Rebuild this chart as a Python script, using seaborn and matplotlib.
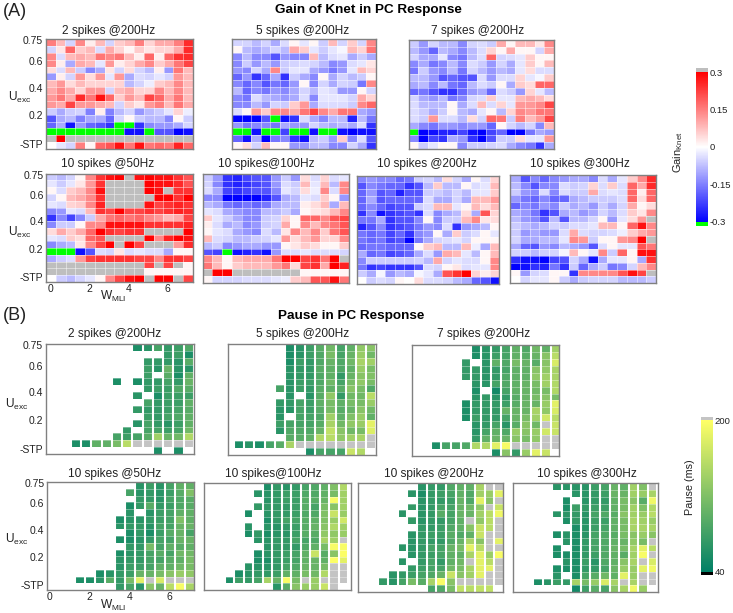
import numpy as np
import matplotlib as mpl
import matplotlib.pyplot as plt
import seaborn as sns

sns.set_theme(style='white')
plt.rcParams['font.family'] = ['Liberation Sans', 'DejaVu Sans']
plt.rcParams['mathtext.default'] = 'regular'

# ── DATA: GAIN (x 100), 99 = above range (grey), -99 = below range (green) ──
gain_2_200 = [
    [15, 8, -5, 14, 2, 8, -5, 6, 8, 15, 5, 10, 10, 15, 25],
    [-5, 3, 18, 6, 8, -4, 10, 5, 1, 6, 3, 5, 5, 10, 25],
    [14, -4, 8, 10, 8, 16, 14, 16, 8, 2, 18, 2, 18, 24, 25],
    [14, 2, -10, 10, 8, -3, 12, 2, 5, 10, 14, 6, 10, 16, 22],
    [4, -4, 8, -6, -14, -10, 3, -5, 4, -5, -8, 2, -12, 16, 8],
    [-12, 2, -5, 12, 4, 12, -3, 12, -10, -4, -5, -3, -5, 12, 8],
    [8, 12, 4, 8, 5, 5, 5, 5, -8, -5, -2, 6, 8, 14, 8],
    [10, 14, 10, 5, 12, 12, -5, 8, 10, 5, 5, 14, 8, 14, 8],
    [12, 16, 10, 25, 16, 28, 18, 6, 12, 8, 22, 18, 10, 16, 8],
    [12, 10, 22, 12, 12, 10, 8, -5, 6, 3, 12, 15, 8, 16, 10],
    [-6, -10, -6, -5, -15, 2, -15, -8, -5, -12, -8, -6, -3, 5, -2],
    [-20, -10, -8, -15, -10, -10, -18, -5, 1, -6, -8, -8, -14, 1, -6],
    [-18, -10, -28, -12, -18, -20, -24, -99, -99, -24, -14, -12, -12, -10, -5],
    [-99, -99, -99, -99, -99, -99, -99, -99, -28, -28, -99, -20, -20, -30, -28],
    [99, 30, 99, 99, 99, 99, 99, 99, 99, 99, 99, 99, 99, 99, 99],
    [0, -3, -5, 15, 1, 18, 20, 28, 16, 28, 16, 18, 16, 26, 18],
]
gain_5_200 = [
    [-5, -5, -8, -5, -10, -4, 1, -3, 1, -6, 8, -5, 6, -5, 14],
    [1, -8, -10, -8, -5, -8, 10, 6, -3, -6, -3, -1, 8, 5, 16],
    [-14, -8, -14, -14, -20, -12, -14, -14, 8, -8, -4, -3, -10, -6, -10],
    [-14, -6, -12, -8, -12, -6, -5, -4, -5, -8, -14, -12, -4, -3, 3],
    [-12, -14, -5, -10, 14, -6, -3, -3, -10, -12, -16, -12, -3, 8, 5],
    [-18, -12, -24, -18, -10, -24, -6, -10, -14, 1, -10, -5, -8, -6, 1],
    [-14, -18, -14, -20, -16, -18, -12, 1, -14, -5, -10, -5, -6, -16, 14],
    [-8, -18, -14, -16, -12, -14, -10, -5, -8, -3, -4, -12, -12, 1, -5],
    [-14, -16, -4, -8, -10, -12, -10, -4, -14, -3, -3, -3, -5, 10, 5],
    [-14, -14, -8, -12, -5, -6, 6, 12, -10, -4, -4, -4, -6, 14, 18],
    [-4, 1, 12, 6, 14, 14, 10, 16, 22, 14, 10, 16, 16, -10, -12],
    [-30, -30, -30, -20, -99, -28, -24, -4, -10, -14, -8, -8, -26, -8, -16],
    [-12, -16, -14, -14, -16, -10, -12, -12, -5, -8, -10, -8, -10, -4, -24],
    [-99, -99, -28, -99, -99, -22, -99, -99, -28, -99, -99, -28, -30, -28, -28],
    [-18, -28, -10, -30, -16, -14, -24, -28, -8, -6, -12, 6, -14, -4, -20],
    [1, 4, -5, 8, 1, 1, -12, -12, -8, -8, -14, -14, -5, -10, -24],
]
gain_7_200 = [
    [-6, -12, -5, -8, -8, -14, -5, -4, -6, 10, 1, 8, 8, 3, 14],
    [-8, -12, -18, -8, -10, -14, -8, -4, 5, 1, 10, 1, 1, -5, 10],
    [-5, -10, -10, -3, -14, -16, -8, -4, 18, -5, -4, -3, 6, 1, 1],
    [-14, -10, -16, -14, -8, -14, -4, -6, -12, -5, -10, -3, 6, 1, 8],
    [-16, -6, -12, -14, -8, -16, -5, -8, -12, -8, -10, -3, 4, -4, -4],
    [-8, -8, -12, -20, -18, -20, -20, -4, -12, -4, -4, 5, -3, -1, 6],
    [-10, -8, -14, -8, -16, -18, -8, -4, -6, 1, -10, 6, 4, 18, 18],
    [-18, -16, -20, -24, -24, -18, -12, -10, -18, -4, -6, -12, 5, -3, -8],
    [-5, -10, -12, -8, -16, -14, -5, -4, 6, -3, -3, 8, 10, 8, 4],
    [-4, -8, -8, -8, 1, -10, -4, 8, -4, 5, -3, 12, 12, 14, 22],
    [-4, -6, -10, -6, 1, -8, -10, -3, 1, -8, 5, 14, 12, 16, 16],
    [-4, -6, 12, -4, -4, -8, 4, -5, 18, 16, -6, 15, 8, 12, 22],
    [-10, -14, -16, -12, -12, -14, -12, -12, -18, 1, -5, -8, -5, -14, 8],
    [-99, -30, -28, -26, -26, -22, -28, -30, -22, -18, -30, -30, -16, -10, -12],
    [-14, -30, -22, -24, -10, -12, -24, -30, -20, -6, -6, 4, -3, -3, 12],
    [1, -6, -3, 1, 1, -14, -6, -6, -5, -4, -10, -14, -16, -24, -10],
]
gain_10_50 = [
    [-6, -8, -5, 1, 14, 24, 28, 30, 99, 28, 30, 28, 28, 24, 20],
    [-3, -6, -3, 3, 12, 24, 99, 99, 99, 99, 30, 28, 28, 25, 20],
    [1, -4, 6, 8, 14, 28, 99, 99, 99, 99, 30, 28, 99, 24, 24],
    [-5, 1, 8, 10, 14, 24, 99, 99, 99, 99, 99, 30, 30, 24, 30],
    [-3, -4, 5, 6, 14, 26, 99, 99, 99, 99, 28, 22, 24, 26, 24],
    [-14, -12, -3, -4, 8, 24, 22, 30, 22, 22, 24, 22, 24, 26, 25],
    [-24, -14, -22, -14, -6, 10, 16, 18, 16, 18, 14, 12, 8, 10, 22],
    [-14, -6, -6, 1, 14, 14, 28, 28, 28, 28, 24, 24, 24, 24, 26],
    [4, 10, 6, 10, 18, 30, 24, 22, 24, 24, 99, 99, 99, 99, 30],
    [-3, -4, 6, 4, 18, 20, 99, 99, 99, 99, 30, 14, 26, 30, 28],
    [-14, -10, -8, 3, 14, 22, 30, 99, 30, 22, 99, 99, 99, 12, 25],
    [-99, -99, -99, -28, -20, -4, -5, 3, -4, -3, -4, -4, -10, 1, 1],
    [-10, -6, -4, 12, 22, 24, 24, 24, 24, 22, 22, 14, 24, 24, 22],
    [99, 99, 99, 99, 99, 99, 99, 99, 99, 99, 22, 99, 22, 99, 1],
    [99, 99, 99, 99, 99, 99, 99, 99, 99, 99, 1, 1, 1, 1, 1],
    [0, -6, -8, -5, -3, 1, 14, 22, 28, 30, 99, 30, 30, 99, 22],
]
gain_10_100 = [
    [-6, -12, -24, -26, -22, -20, -20, -12, -6, -12, 4, -4, 5, -4, -3],
    [-5, -14, -24, -26, -24, -22, -20, -12, -4, -6, 8, -3, 8, -8, 14],
    [-4, -10, -22, -24, -22, -20, -20, -14, -3, -5, 4, -2, 14, -4, 14],
    [-14, -14, -30, -30, -30, -30, -26, -20, -10, -8, -3, -4, 6, 1, -12],
    [-8, -10, -16, -18, -16, -18, -16, -10, -8, -8, 2, 4, 8, -10, 8],
    [-3, -4, -10, -12, -14, -14, -8, -8, -6, -10, 1, 3, 4, 8, 14],
    [6, -3, -6, -10, -14, -14, -6, -5, 5, 1, 18, 18, 14, 20, 22],
    [2, -4, -10, -8, -14, -12, -6, -5, 10, 1, 14, 8, 14, 16, 20],
    [1, -3, -4, -10, -12, -14, -4, -8, 3, 14, 8, 14, 6, 16, 20],
    [8, -4, -5, -8, -8, -6, -5, -3, 12, 4, 8, 12, 5, 5, 14],
    [-8, -6, -14, -12, -10, -10, -12, -12, 1, 3, 6, 4, 1, 1, 6],
    [-20, -22, -99, -28, -26, -24, -28, -12, -4, -4, -3, -4, -4, -4, -5],
    [14, 8, 1, 8, 10, 10, 10, 16, 30, 30, 22, 24, 16, 30, 99],
    [16, 8, 1, 6, 8, 8, 8, 12, 16, 4, 22, 24, 10, 30, 26],
    [99, 30, 30, 99, 99, 99, 99, 99, 99, 99, 1, 1, 1, 1, 1],
    [1, -5, -5, -5, -4, -4, -4, -3, -2, 6, 8, 20, 20, 28, 16],
]
gain_10_200 = [
    [-14, -12, -14, -14, -18, -16, -6, -5, -8, 4, -5, -10, 1, -4, 5],
    [-20, -14, -16, -18, -18, -24, -20, -8, 6, -8, -8, 1, -4, -3, 8],
    [-18, -12, -20, -18, -26, -20, -20, -6, -6, -8, -5, -8, -3, -3, 6],
    [-18, -10, -20, -18, -18, -18, -18, -4, -10, -10, -5, -10, 8, 8, 12],
    [-18, -14, -18, -22, -20, -20, -6, -4, 8, 8, -3, 1, 8, 4, 8],
    [-24, -14, -28, -24, -22, -20, -24, -4, -14, -10, -8, 4, -10, 20, 5],
    [-16, -16, -10, -24, -20, -20, -14, 1, -14, -6, -6, 8, 14, 3, 4],
    [-26, -20, -14, -24, -22, -20, -16, -12, -14, -4, -24, -12, -10, -8, 1],
    [-16, -18, -16, -22, -18, -24, -14, -12, 1, -10, 6, -6, -4, 1, -3],
    [-16, -18, -16, -22, -20, -30, -16, -10, -5, -4, -3, -5, 1, 1, 1],
    [-18, -16, -16, -18, -18, -18, 1, 6, 8, -8, -8, 8, -2, -10, 8],
    [-10, -18, -16, -22, -20, -18, -10, -4, -12, 10, 8, -3, -8, 1, 8],
    [-14, -6, -6, -6, -6, -6, -5, -8, 10, -5, -3, -4, -4, 1, 14],
    [-16, -24, -22, -24, -24, -24, -20, -4, -5, 1, 3, -4, -3, -3, 14],
    [-6, -10, -1, -12, -8, -10, -1, -3, -10, 20, 24, 30, 5, 2, 5],
    [0, -6, -4, -5, 1, 0, 4, -4, -4, -5, -8, -10, -18, -20, -28],
]
gain_10_300 = [
    [-10, -20, -14, -18, -14, -12, -10, -10, -14, -4, -10, -3, 6, 14, 25],
    [-8, -14, -20, -14, -14, -4, -6, -5, 5, -4, 6, -4, 18, 10, 25],
    [-6, -12, -14, -4, -14, -4, -6, -6, 10, -4, -3, -4, 18, 2, 18],
    [-12, -16, -18, -14, -18, -18, -10, -8, -6, -6, -6, -4, 18, 4, 18],
    [-18, -14, -16, -12, -14, -6, -10, -8, -12, -6, -10, -5, 10, 1, 4],
    [-10, -12, -16, -24, -20, -10, -8, -12, -10, -5, -8, -4, 6, 3, 14],
    [-8, -12, -14, -20, -8, -20, -8, -8, -5, 1, -12, -3, 4, 12, 99],
    [-6, -8, -10, -8, -5, -6, -4, -4, -3, 8, 8, 1, 18, 28, 14],
    [-6, -12, -10, -12, -12, -4, 10, -4, -5, -5, -4, -2, 6, 10, 12],
    [-5, -10, -10, -8, -8, -3, 14, 12, -6, 1, 1, 12, 14, 30, 99],
    [-10, -18, -20, -12, -14, -8, -10, -12, -20, -4, 1, -3, -3, 20, 16],
    [-5, -6, -8, -6, -5, -1, 8, 1, -3, 14, -6, 18, 1, 28, 28],
    [-24, -28, -28, -30, -22, -20, -5, -10, -28, -10, -3, -3, 1, -10, 24],
    [-30, -28, -24, -26, -16, -24, -6, -18, -10, -6, -16, -14, -5, 8, 14],
    [1, -12, -5, -4, 1, 1, -24, 14, 14, 14, 14, 20, 28, 22, 99],
    [0, -5, -3, -3, 1, -6, -10, -6, -5, -5, -5, -8, -8, -8, -6],
]

# ── DATA: PAUSE (ms), 0 = no pause (white), 999 = above range (grey) ────────
pause_2_200 = [
    [0, 0, 0, 0, 0, 0, 0, 0, 0, 58, 66, 84, 72, 78, 90],
    [0, 0, 0, 0, 0, 0, 0, 0, 0, 0, 0, 0, 72, 78, 58],
    [0, 0, 0, 0, 0, 0, 0, 0, 0, 0, 72, 72, 72, 66, 95],
    [0, 0, 0, 0, 0, 0, 0, 0, 0, 0, 78, 66, 105, 66, 66],
    [0, 0, 0, 0, 0, 0, 0, 0, 0, 0, 78, 0, 95, 58, 100],
    [0, 0, 0, 0, 0, 0, 0, 58, 0, 58, 72, 72, 84, 72, 105],
    [0, 0, 0, 0, 0, 0, 0, 0, 0, 0, 72, 78, 78, 90, 95],
    [0, 0, 0, 0, 0, 0, 0, 0, 0, 66, 0, 58, 78, 78, 78],
    [0, 0, 0, 0, 0, 0, 0, 0, 0, 0, 84, 72, 78, 78, 100],
    [0, 0, 0, 0, 0, 0, 0, 0, 0, 72, 72, 72, 78, 84, 95],
    [0, 0, 0, 0, 0, 0, 0, 0, 0, 0, 78, 72, 84, 90, 100],
    [0, 0, 0, 0, 0, 0, 0, 0, 0, 66, 84, 72, 66, 78, 100],
    [0, 0, 0, 0, 0, 0, 0, 0, 72, 0, 84, 84, 78, 84, 110],
    [0, 0, 0, 0, 0, 0, 0, 84, 78, 84, 95, 140, 105, 110, 150],
    [0, 0, 0, 58, 58, 100, 100, 115, 155, 999, 999, 999, 999, 999, 999],
    [0, 0, 0, 0, 0, 0, 0, 0, 0, 0, 0, 58, 0, 58, 0],
]
pause_5_200 = [
    [0, 0, 0, 0, 0, 0, 58, 66, 78, 95, 110, 84, 100, 130, 125],
    [0, 0, 0, 0, 0, 0, 58, 66, 78, 90, 115, 84, 105, 135, 110],
    [0, 0, 0, 0, 0, 0, 58, 78, 72, 90, 105, 90, 110, 145, 140],
    [0, 0, 0, 0, 0, 0, 66, 72, 72, 95, 100, 90, 100, 135, 115],
    [0, 0, 0, 0, 0, 0, 66, 72, 72, 90, 100, 72, 105, 125, 120],
    [0, 0, 0, 0, 0, 0, 66, 78, 78, 90, 110, 84, 115, 130, 115],
    [0, 0, 0, 0, 0, 84, 66, 78, 72, 95, 100, 95, 125, 115, 90],
    [0, 0, 0, 0, 0, 0, 66, 0, 66, 95, 130, 72, 110, 110, 155],
    [0, 0, 0, 0, 0, 72, 72, 84, 78, 100, 115, 100, 115, 115, 135],
    [0, 0, 0, 0, 0, 66, 66, 84, 78, 95, 115, 95, 105, 125, 110],
    [0, 0, 0, 0, 0, 66, 0, 84, 84, 90, 140, 100, 120, 135, 100],
    [0, 0, 0, 0, 0, 78, 84, 84, 84, 95, 145, 110, 130, 135, 182],
    [0, 0, 0, 0, 0, 66, 90, 90, 90, 105, 160, 125, 110, 115, 178],
    [0, 0, 0, 0, 0, 0, 95, 95, 100, 150, 155, 130, 140, 145, 999],
    [0, 58, 66, 58, 84, 95, 145, 999, 999, 999, 999, 999, 999, 999, 999],
    [0, 0, 0, 0, 0, 0, 0, 0, 58, 84, 84, 84, 165, 150, 0],
]
pause_7_200 = [
    [0, 0, 0, 0, 0, 0, 58, 66, 72, 84, 100, 90, 110, 100, 140],
    [0, 0, 0, 0, 0, 0, 58, 66, 78, 84, 100, 95, 105, 125, 155],
    [0, 0, 0, 0, 0, 72, 0, 66, 100, 90, 115, 105, 95, 125, 175],
    [0, 0, 0, 0, 0, 72, 72, 66, 72, 84, 100, 100, 125, 130, 145],
    [0, 0, 0, 0, 0, 72, 72, 66, 72, 90, 100, 100, 130, 140, 145],
    [0, 0, 0, 0, 0, 0, 66, 66, 84, 90, 100, 105, 115, 140, 150],
    [0, 0, 0, 0, 0, 0, 58, 0, 52, 84, 100, 105, 110, 115, 150],
    [0, 0, 0, 0, 0, 0, 66, 72, 66, 72, 95, 105, 115, 125, 115],
    [0, 0, 0, 0, 0, 58, 72, 72, 72, 78, 95, 105, 105, 135, 182],
    [0, 0, 0, 0, 0, 58, 72, 72, 72, 105, 105, 105, 145, 130, 175],
    [0, 0, 0, 0, 0, 58, 78, 72, 72, 84, 105, 115, 140, 170, 155],
    [0, 0, 0, 0, 0, 0, 66, 72, 84, 66, 95, 125, 110, 999, 165],
    [0, 0, 0, 0, 0, 0, 66, 84, 100, 90, 135, 125, 135, 170, 165],
    [0, 0, 0, 0, 0, 0, 72, 100, 105, 105, 125, 115, 130, 999, 999],
    [0, 0, 58, 84, 84, 90, 150, 150, 182, 195, 999, 999, 999, 999, 999],
    [0, 0, 0, 0, 0, 0, 0, 0, 58, 125, 72, 135, 182, 165, 0],
]
pause_10_50 = [
    [0, 0, 0, 0, 0, 0, 0, 0, 0, 66, 78, 66, 84, 100, 100],
    [0, 0, 0, 0, 0, 0, 0, 0, 84, 66, 72, 66, 78, 95, 120],
    [0, 0, 0, 0, 0, 0, 0, 0, 0, 72, 72, 66, 84, 90, 95],
    [0, 0, 0, 0, 0, 0, 0, 0, 58, 72, 95, 72, 78, 90, 95],
    [0, 0, 0, 0, 0, 0, 0, 0, 66, 0, 66, 78, 84, 100, 100],
    [0, 0, 0, 0, 0, 0, 0, 58, 66, 66, 72, 78, 84, 120, 100],
    [0, 0, 0, 0, 0, 0, 0, 66, 72, 72, 66, 84, 84, 105, 105],
    [0, 0, 0, 0, 0, 0, 0, 0, 58, 72, 58, 78, 95, 105, 84],
    [0, 0, 0, 0, 0, 0, 0, 58, 58, 66, 72, 84, 84, 105, 105],
    [0, 0, 0, 0, 0, 0, 0, 0, 72, 72, 115, 84, 100, 95, 100],
    [0, 0, 0, 0, 0, 0, 0, 58, 66, 72, 84, 95, 84, 110, 110],
    [0, 0, 0, 0, 0, 0, 0, 66, 72, 72, 84, 84, 95, 100, 115],
    [0, 0, 0, 0, 0, 0, 0, 66, 78, 78, 84, 100, 100, 110, 115],
    [0, 0, 0, 0, 0, 58, 66, 72, 78, 105, 105, 115, 125, 135, 130],
    [0, 0, 0, 58, 58, 66, 95, 72, 115, 182, 999, 175, 999, 999, 999],
    [0, 0, 0, 0, 0, 0, 0, 72, 84, 66, 125, 105, 155, 195, 145],
]
pause_10_100 = [
    [0, 0, 0, 0, 0, 0, 58, 72, 66, 72, 84, 90, 100, 120, 150],
    [0, 0, 0, 0, 0, 66, 66, 72, 78, 78, 90, 90, 100, 115, 140],
    [0, 0, 0, 0, 0, 0, 66, 72, 78, 78, 95, 95, 105, 195, 140],
    [0, 0, 0, 0, 0, 72, 72, 72, 72, 78, 95, 84, 115, 125, 140],
    [0, 0, 0, 0, 58, 0, 66, 72, 72, 78, 90, 90, 120, 165, 135],
    [0, 0, 0, 0, 0, 0, 58, 72, 84, 84, 95, 100, 120, 135, 170],
    [0, 0, 0, 0, 66, 0, 66, 66, 72, 78, 95, 105, 125, 150, 140],
    [0, 0, 0, 0, 58, 72, 58, 66, 66, 78, 95, 95, 130, 130, 135],
    [0, 0, 0, 0, 0, 66, 66, 72, 72, 84, 84, 90, 145, 140, 999],
    [0, 0, 0, 0, 0, 0, 66, 72, 72, 72, 90, 100, 115, 195, 195],
    [0, 0, 0, 0, 0, 58, 66, 72, 78, 84, 100, 165, 95, 125, 198],
    [0, 0, 0, 0, 0, 58, 58, 72, 78, 84, 100, 105, 100, 198, 182],
    [0, 0, 0, 0, 66, 66, 66, 72, 84, 90, 105, 105, 115, 999, 999],
    [0, 0, 0, 58, 66, 72, 72, 78, 100, 100, 115, 110, 150, 999, 999],
    [0, 0, 58, 78, 72, 84, 145, 105, 195, 115, 999, 135, 999, 999, 999],
    [0, 0, 0, 0, 0, 0, 0, 66, 95, 125, 135, 135, 165, 999, 0],
]
pause_10_200 = [
    [0, 0, 0, 0, 0, 0, 66, 72, 72, 90, 100, 100, 145, 999, 999],
    [0, 0, 0, 0, 0, 66, 58, 72, 78, 84, 100, 90, 140, 135, 182],
    [0, 0, 0, 0, 0, 0, 66, 72, 72, 78, 105, 90, 182, 125, 999],
    [0, 0, 0, 0, 0, 72, 66, 72, 84, 84, 105, 110, 130, 999, 165],
    [0, 0, 0, 0, 66, 0, 66, 72, 95, 84, 105, 105, 140, 155, 190],
    [0, 0, 0, 0, 0, 72, 66, 72, 72, 84, 100, 999, 130, 155, 999],
    [0, 0, 0, 0, 0, 0, 72, 72, 78, 90, 100, 125, 165, 155, 999],
    [0, 0, 0, 0, 0, 66, 72, 78, 78, 95, 90, 100, 165, 999, 999],
    [0, 0, 0, 0, 0, 66, 72, 72, 72, 90, 105, 145, 125, 999, 182],
    [0, 0, 0, 0, 66, 66, 72, 84, 84, 105, 115, 182, 155, 999, 999],
    [0, 0, 0, 0, 0, 66, 72, 78, 84, 100, 100, 145, 182, 135, 195],
    [0, 0, 0, 0, 66, 0, 72, 84, 72, 100, 110, 999, 182, 155, 999],
    [0, 0, 0, 0, 0, 72, 78, 84, 84, 110, 115, 145, 182, 182, 999],
    [0, 0, 0, 66, 72, 78, 84, 90, 105, 165, 125, 140, 182, 999, 999],
    [0, 0, 72, 66, 84, 115, 95, 145, 195, 125, 999, 999, 999, 999, 999],
    [0, 0, 0, 0, 0, 0, 0, 84, 90, 115, 160, 155, 160, 160, 0],
]
pause_10_300 = [
    [0, 0, 0, 0, 66, 66, 66, 66, 78, 84, 105, 100, 140, 120, 999],
    [0, 0, 0, 0, 0, 0, 66, 66, 72, 78, 105, 105, 140, 135, 145],
    [0, 0, 0, 0, 0, 58, 0, 66, 72, 72, 100, 115, 125, 95, 190],
    [0, 0, 0, 0, 0, 58, 78, 72, 78, 78, 100, 115, 140, 120, 150],
    [0, 0, 0, 0, 66, 66, 72, 66, 84, 90, 95, 125, 140, 135, 155],
    [0, 0, 0, 0, 0, 58, 72, 66, 78, 78, 100, 115, 145, 140, 135],
    [0, 0, 0, 0, 0, 0, 58, 66, 78, 84, 100, 115, 145, 145, 145],
    [0, 0, 0, 0, 58, 66, 58, 66, 84, 90, 95, 115, 125, 135, 125],
    [0, 0, 0, 0, 0, 66, 58, 72, 84, 90, 100, 105, 130, 115, 999],
    [0, 0, 0, 0, 58, 0, 58, 72, 84, 90, 105, 115, 145, 182, 155],
    [0, 0, 0, 0, 58, 58, 58, 72, 78, 90, 100, 95, 140, 195, 999],
    [0, 0, 0, 0, 0, 66, 58, 78, 66, 90, 100, 125, 145, 999, 175],
    [0, 0, 0, 0, 58, 58, 58, 72, 72, 84, 105, 135, 135, 182, 190],
    [0, 0, 0, 0, 66, 0, 58, 84, 95, 110, 100, 182, 135, 999, 999],
    [0, 0, 58, 66, 78, 72, 145, 115, 135, 175, 145, 999, 145, 999, 999],
    [0, 0, 0, 0, 0, 0, 52, 78, 95, 84, 125, 145, 190, 135, 0],
]

panel_titles = ['2 spikes @200Hz', '5 spikes @200Hz', '7 spikes @200Hz', '10 spikes @50Hz',
                '10 spikes@100Hz', '10 spikes @200Hz', '10 spikes @300Hz']
gain_data = [gain_2_200, gain_5_200, gain_7_200, gain_10_50,
             gain_10_100, gain_10_200, gain_10_300]
pause_data = [pause_2_200, pause_5_200, pause_7_200, pause_10_50,
              pause_10_100, pause_10_200, pause_10_300]
y_ticks = [0.3, 3.3, 7.2, 11.2, 15.4]
y_labels = ['0.75', '0.6', '0.4', '0.2', '-STP']
x_ticks = [0.45, 4.45, 8.45, 12.45]
x_labels = ['0', '2', '4', '6']

# ── LAYOUT: panel boxes in pixels (left, top, right, bottom) + title centre ─
W, H = 733, 613
gain_boxes = [(45.7, 39, 193, 149), (232, 39, 375.7, 149), (408.7, 40, 554, 149),
              (46, 173.7, 192.7, 282), (202.7, 173.7, 348.7, 282.7),
              (356.7, 175.7, 499.3, 284), (510.3, 175, 656, 283)]
gain_title_xy = [(109, 30.7), (302.7, 30.7), (478, 30.7), (107.7, 164.3),
                 (266.7, 164.3), (426.7, 164.3), (580, 164.3)]
pause_boxes = [(45.7, 344, 193.5, 454), (228.3, 344, 375.7, 454.5), (411.7, 345, 559.3, 456),
               (47, 482, 193.7, 590), (204, 483.3, 350.7, 590),
               (357.7, 483.3, 503, 591.7), (512.7, 483.3, 658.3, 592.3)]
pause_title_xy = [(115, 334.3), (302.7, 334.3), (484, 334.3), (115, 474.3),
                  (273, 474.3), (434, 474.3), (586.7, 474.3)]
pause_xlims = [(0.54, 14.97), (0.42, 14.96), (0.1, 14.87), (0.23, 14.9),
               (-0.17, 15.27), (-0.12, 14.91), (-0.13, 15.09)]
TXT = '#222222'


def add_axes_px(fig, box):
    l, t, r, b = box
    return fig.add_axes([l / W, 1 - b / H, (r - l) / W, (b - t) / H])


def put_text(fig, x, y, s, **kw):
    kw.setdefault('ha', 'center')
    kw.setdefault('va', 'center')
    kw.setdefault('color', TXT)
    return fig.text(x / W, 1 - y / H, s, **kw)


def style_axes(ax, show_y, show_x):
    if show_y:
        ax.set_yticks(y_ticks, y_labels, rotation=0)
    else:
        ax.set_yticks([])
    if show_x:
        ax.set_xticks(x_ticks, x_labels, rotation=0)
    else:
        ax.set_xticks([])
    ax.tick_params(length=0, pad=1.8, labelsize=7.5, colors=TXT)
    ax.set_xlabel('')
    ax.set_ylabel('')
    for sp in ax.spines.values():
        sp.set_visible(True)
        sp.set_color('#808080')
        sp.set_linewidth(1.0)
        sp.set_zorder(5)


gain_cmap = mpl.colormaps['bwr'].copy()
gain_cmap.set_over('#bebebe')
gain_cmap.set_under('#00ff00')
pause_cmap = mpl.colormaps['summer'].copy()
pause_cmap.set_over('#c4c4c4')
pause_cmap.set_under('#000000')
pause_cmap.set_bad('white')

fig = plt.figure(figsize=(W / 100, H / 100), dpi=100)

# ── PANEL GROUP A ───────────────────────────────────────────────────────────
for i, vals in enumerate(gain_data):
    ax = add_axes_px(fig, gain_boxes[i])
    sns.heatmap(np.array(vals) / 100, ax=ax, cmap=gain_cmap, vmin=-0.3, vmax=0.3, cbar=False)
    # faint cell borders: edge lines on the mesh always snap to a full white pixel
    ax.vlines(range(16), 0, 16, color='white', linewidth=0.7, alpha=0.45)
    ax.hlines(range(17), 0, 15, color='white', linewidth=0.7, alpha=0.45)
    style_axes(ax, i in (0, 3), i == 3)
    put_text(fig, *gain_title_xy[i], panel_titles[i], fontsize=8.6)
gain_mesh = ax.collections[0]

# ── PANEL GROUP B ───────────────────────────────────────────────────────────
for i, vals in enumerate(pause_data):
    ax = add_axes_px(fig, pause_boxes[i])
    arr = np.array(vals, dtype=float)
    sns.heatmap(arr, ax=ax, mask=arr == 0, cmap=pause_cmap, vmin=40, vmax=200, cbar=False)
    ax.vlines(range(16), 0, 16, color='white', linewidth=1.5)
    ax.hlines(range(17), 0, 15, color='white', linewidth=0.7, alpha=0.35)
    ax.set_xlim(*pause_xlims[i])
    style_axes(ax, i in (0, 3), i == 3)
    put_text(fig, *pause_title_xy[i], panel_titles[i], fontsize=8.6)
    if i == 0:
        pause_mesh = ax.collections[0]

# ── COLOURBARS ──────────────────────────────────────────────────────────────
cax = add_axes_px(fig, (696, 68.3, 707.7, 225.7))
cb = fig.colorbar(gain_mesh, cax=cax, extend='both', extendrect=True, extendfrac=0.025)
cb.set_ticks([-0.3, -0.15, 0, 0.15, 0.3], labels=['-0.3', '-0.15', '0', '0.15', '0.3'])
cb.ax.tick_params(length=0, pad=1.5, labelsize=6.8, colors=TXT)
cb.outline.set_visible(False)

cax = add_axes_px(fig, (701, 417, 712.7, 575))
cb = fig.colorbar(pause_mesh, cax=cax, extend='both', extendrect=True, extendfrac=0.02)
cb.set_ticks([40, 200], labels=['40', '200'])
cb.ax.tick_params(length=0, pad=1.5, labelsize=6.8, colors=TXT)
cb.outline.set_visible(False)

# ── LABELS ──────────────────────────────────────────────────────────────────
put_text(fig, 368, 10, 'Gain of Knet in PC Response', fontsize=9.7, fontweight='bold', color='black')
put_text(fig, 351, 315.7, 'Pause in PC Response', fontsize=9.7, fontweight='bold', color='black')
put_text(fig, 15, 11, '(A)', fontsize=13)
put_text(fig, 15, 316, '(B)', fontsize=13)
for x, y in [(20, 97.7), (20, 232), (16.5, 404), (17, 539.3)]:
    put_text(fig, x, y, 'U$_{exc}$', fontsize=8.6)
for x, y in [(113, 296.7), (113, 605)]:
    put_text(fig, x, y, 'W$_{MLI}$', fontsize=8.6)
put_text(fig, 678, 152, 'Gain$_{Knet}$', fontsize=8, rotation=90)
put_text(fig, 690, 487, 'Pause (ms)', fontsize=7.8, rotation=90)

fig.savefig('out.png', dpi=100)
